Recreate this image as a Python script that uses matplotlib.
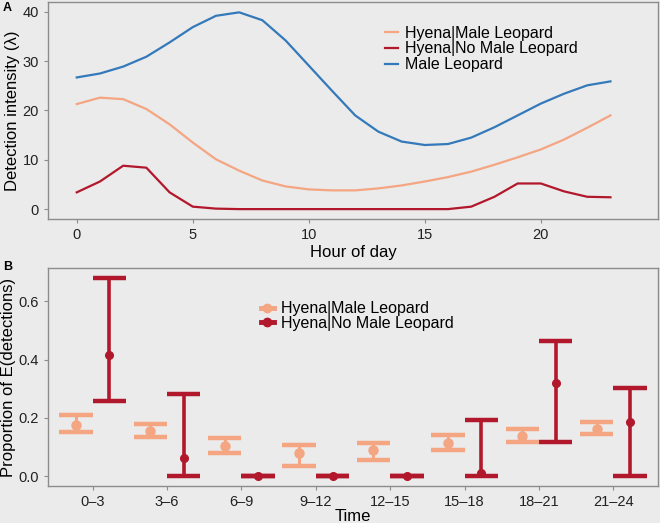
import numpy as np
import matplotlib.pyplot as plt
from matplotlib.lines import Line2D

plt.rcParams['font.family'] = ['Liberation Sans', 'DejaVu Sans']

# panel A data
hours = list(range(24))
male_leopard = [26.7, 27.5, 28.9, 30.9, 33.8, 36.9, 39.2, 39.9, 38.3, 34.2, 29.1, 24.0,
                19.0, 15.7, 13.7, 13.0, 13.2, 14.5, 16.6, 19.0, 21.4, 23.4, 25.1, 25.9]
hyena_male = [21.3, 22.6, 22.3, 20.3, 17.2, 13.5, 10.1, 7.8, 5.8, 4.6, 4.0, 3.8,
              3.8, 4.2, 4.8, 5.6, 6.5, 7.6, 9.0, 10.5, 12.1, 14.1, 16.5, 19.0]
hyena_nomale = [3.4, 5.6, 8.8, 8.4, 3.4, 0.5, 0.1, 0.0, 0.0, 0.0, 0.0, 0.0,
                0.0, 0.0, 0.0, 0.0, 0.0, 0.5, 2.5, 5.2, 5.2, 3.6, 2.5, 2.4]

# panel B data
periods = ['0–3', '3–6', '6–9', '9–12', '12–15', '15–18', '18–21', '21–24']
hm_mid = [0.177, 0.154, 0.105, 0.078, 0.088, 0.114, 0.139, 0.162]
hm_lo = [0.152, 0.135, 0.078, 0.035, 0.054, 0.090, 0.118, 0.143]
hm_hi = [0.208, 0.178, 0.131, 0.108, 0.113, 0.140, 0.163, 0.187]
hn_mid = [0.417, 0.061, 0.0, 0.0, 0.002, 0.012, 0.320, 0.185]
hn_lo = [0.257, 0.0, 0.0, 0.0, 0.0, 0.0, 0.118, 0.0]
hn_hi = [0.681, 0.283, 0.0, 0.0, 0.0, 0.191, 0.463, 0.301]

c_orange = '#F4A582'
c_red = '#B2182B'
c_blue = '#3479BA'
bg = '#EBEBEB'
edge = '#8C8C8C'

fig = plt.figure(figsize=(6.6, 5.23), dpi=100, facecolor=bg)
axA = fig.add_axes([0.0727, 0.5813, 0.9243, 0.4149])
axB = fig.add_axes([0.0727, 0.0707, 0.9243, 0.4169])

for ax in (axA, axB):
    ax.set_facecolor(bg)
    for s in ax.spines.values():
        s.set_color(edge)
        s.set_linewidth(1.0)
    ax.tick_params(colors=edge, labelcolor='#222222', labelsize=10.5,
                   length=3, width=0.8, direction='out')

# A
axA.plot(hours, hyena_male, color=c_orange, lw=1.6, label='Hyena|Male Leopard')
axA.plot(hours, hyena_nomale, color=c_red, lw=1.6, label='Hyena|No Male Leopard')
axA.plot(hours, male_leopard, color=c_blue, lw=1.6, label='Male Leopard')
axA.set_xlim(-1.24, 25.05)
axA.set_ylim(-2, 42)
axA.set_xticks([0, 5, 10, 15, 20])
axA.set_yticks([0, 10, 20, 30, 40])
axA.set_xlabel('Hour of day', fontsize=12, labelpad=2)
axA.set_ylabel('Detection intensity (λ)', fontsize=12, labelpad=2)
axA.legend(loc='upper left', bbox_to_anchor=(0.539, 0.928), frameon=False, fontsize=11.5,
           handlelength=0.8, handletextpad=0.45, labelspacing=0.05, borderpad=0)

# B
x = np.arange(1, len(periods) + 1)
d = 0.225
hw = 0.225
xo = x - d
xr = x + d
axB.vlines(xo, hm_lo, hm_hi, color=c_orange, lw=2.2)
axB.hlines(hm_lo, xo - hw, xo + hw, color=c_orange, lw=3.2)
axB.hlines(hm_hi, xo - hw, xo + hw, color=c_orange, lw=3.2)
axB.plot(xo, hm_mid, 'o', color=c_orange, ms=6.5)
axB.vlines(xr, hn_lo, hn_hi, color=c_red, lw=2.6)
axB.hlines(hn_lo, xr - hw, xr + hw, color=c_red, lw=3.2)
axB.hlines(hn_hi, xr - hw, xr + hw, color=c_red, lw=3.2)
axB.plot(xr, hn_mid, 'o', color=c_red, ms=5.5)
axB.set_xlim(0.4, 8.6)
axB.set_ylim(-0.034, 0.714)
axB.set_xticks(x)
axB.set_xticklabels(periods)
axB.set_yticks([0.0, 0.2, 0.4, 0.6])
axB.set_yticklabels(['0.0', '0.2', '0.4', '0.6'])
axB.set_xlabel('Time', fontsize=12, labelpad=0)
axB.set_ylabel('Proportion of E(detections)', fontsize=12, labelpad=2)
handles = [Line2D([], [], color=c_orange, lw=3.5, marker='o', ms=6),
           Line2D([], [], color=c_red, lw=3.5, marker='o', ms=6)]
axB.legend(handles, ['Hyena|Male Leopard', 'Hyena|No Male Leopard'], loc='upper left',
           bbox_to_anchor=(0.336, 0.883), frameon=False, fontsize=11.5,
           handlelength=0.8, handletextpad=0.45, labelspacing=-0.05, borderpad=0)

fig.text(0.004, 0.985, 'A', fontsize=9, fontweight='bold', va='center')
fig.text(0.004, 0.49, 'B', fontsize=9, fontweight='bold', va='center')

fig.savefig('out.png', dpi=100, facecolor=bg)
